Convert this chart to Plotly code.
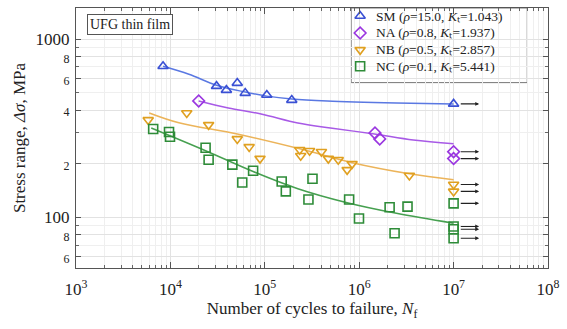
import numpy as np
import plotly.graph_objects as go

# Fatigue data: cycles to failure and stress range (MPa)
sm_N = [8360, 30800, 39200, 51100, 62000, 105000, 193000, 1.0e7]
sm_S = [706, 546, 519, 568, 499, 487, 456, 434]
na_N = [19950, 1.47e6, 1.65e6, 1.0e7, 1.0e7]
na_S = [451, 298, 276, 234, 214]
nb_N = [5820, 14900, 25400, 51100, 68300, 89000, 234000, 240000, 298000,
        398000, 471000, 600000, 841000, 745000, 3.4e6, 1.0e7, 1.0e7]
nb_S = [353, 386, 331, 276, 249, 214, 240, 222, 237, 234, 214, 211, 200,
        185, 172, 153, 140]
nc_N = [6570, 9670, 9900, 23600, 25400, 45300, 75200, 57700, 151000, 167000,
        320000, 290000, 782000, 995000, 2.1e6, 3.25e6, 2.37e6,
        1.0e7, 1.0e7, 1.0e7, 1.0e7]
nc_S = [314, 302, 284, 246, 211, 198, 183, 157, 159, 140, 165, 126, 126,
        98.7, 114, 115, 81.5, 120, 89, 85.8, 76.4]

# Fitted S-N curves (sampled)
sm_fit_N = [8360, 15700, 30800, 62000, 105000, 193000, 458000, 2.48e6, 1.0e7]
sm_fit_S = [706, 637, 553, 506, 480, 462, 450, 439, 434]
na_fit_N = [19950, 41100, 91300, 224000, 496000, 1.45e6, 3.74e6, 1.0e7]
na_fit_S = [451, 412, 381, 339, 318, 294, 272, 259]
nb_fit_N = [5970, 12300, 51100, 240000, 841000, 3.4e6, 1.0e7]
nb_fit_S = [386, 340, 294, 242, 203, 176, 163]
nc_fit_N = [6270, 23600, 75200, 224000, 745000, 2.48e6, 1.0e7]
nc_fit_S = [318, 237, 181, 145, 121, 105.5, 92.8]

RUNOUT = 1.0e7
x_tick_vals = [1e3, 1e4, 1e5, 1e6, 1e7, 1e8]
x_tick_text = ["10<sup>3</sup>", "10<sup>4</sup>", "10<sup>5</sup>",
               "10<sup>6</sup>", "10<sup>7</sup>", "10<sup>8</sup>"]
y_tick_vals = [60, 80, 100, 200, 400, 600, 800, 1000]
y_tick_text = ["6", "8", "100", "2", "4", "6", "8", "1000"]

FONT = "Liberation Serif, Times New Roman, serif"

series = [
    ("SM (<i>ρ</i>=15.0, <i>K</i>ₜ=1.043)", sm_N, sm_S, sm_fit_N, sm_fit_S,
     "triangle-up-open", "#3a50d4", "#5a78e2"),
    ("NA (<i>ρ</i>=0.8, <i>K</i>ₜ=1.937)", na_N, na_S, na_fit_N, na_fit_S,
     "diamond-open", "#9a36e0", "#a85ae6"),
    ("NB (<i>ρ</i>=0.5, <i>K</i>ₜ=2.857)", nb_N, nb_S, nb_fit_N, nb_fit_S,
     "triangle-down-open", "#e0a020", "#ecb45a"),
    ("NC (<i>ρ</i>=0.1, <i>K</i>ₜ=5.441)", nc_N, nc_S, nc_fit_N, nc_fit_S,
     "square-open", "#2e8c38", "#46a050"),
]

fig = go.Figure()
for name, n, s, fn, fs, sym, mcol, lcol in series:
    fig.add_trace(go.Scatter(x=fn, y=fs, mode="lines", line=dict(color=lcol, width=1.5, shape="spline"),
                             showlegend=False, hoverinfo="skip"))
for name, n, s, fn, fs, sym, mcol, lcol in series:
    fig.add_trace(go.Scatter(x=n, y=s, mode="markers", name=name, showlegend=False,
                             marker=dict(symbol=sym, size=9, color=mcol, line=dict(color=mcol, width=1.6))))

annotations = []
shapes = []

# Run-out arrows
for name, n, s, fn, fs, sym, mcol, lcol in series:
    for xi, yi in zip(n, s):
        if xi >= RUNOUT:
            annotations.append(dict(x=np.log10(xi) + 0.27, y=np.log10(yi), ax=np.log10(xi) + 0.06,
                                    ay=np.log10(yi), xref="x", yref="y", axref="x", ayref="y",
                                    showarrow=True, arrowhead=2, arrowsize=0.7, arrowwidth=1.1,
                                    arrowcolor="#222", text=""))

annotations.append(dict(text="UFG thin film", xref="paper", yref="paper", x=0.023, y=0.977,
                        xanchor="left", yanchor="top", showarrow=False,
                        font=dict(family=FONT, size=14, color="#222"),
                        bordercolor="#555", borderwidth=1, borderpad=2, bgcolor="white"))

# Compact legend box (keys on an overlay axis spanning the plot area)
LEG_X0, LEG_X1, LEG_Y0, LEG_Y1 = 0.583, 0.956, 0.713, 1.0
KEY_X, TEXT_X = 0.602, 0.631
ROW_Y = [0.969, 0.904, 0.839, 0.776]
shapes.append(dict(type="rect", xref="paper", yref="paper", x0=LEG_X0, x1=LEG_X1, y0=LEG_Y0, y1=LEG_Y1,
                   line=dict(color="#777", width=1), fillcolor="white", layer="between"))
for (name, n, s, fn, fs, sym, mcol, lcol), ry in zip(series, ROW_Y):
    fig.add_trace(go.Scatter(x=[KEY_X], y=[ry], xaxis="x2", yaxis="y2", mode="markers",
                             showlegend=False, hoverinfo="skip",
                             marker=dict(symbol=sym, size=9, color=mcol, line=dict(color=mcol, width=1.6))))
    annotations.append(dict(text=name, xref="paper", yref="paper", x=TEXT_X, y=ry, xanchor="left",
                            yanchor="middle", showarrow=False,
                            font=dict(family=FONT, size=13.5, color="#222")))

y_minor = [v * 10 ** k for k in (1, 2, 3) for v in range(1, 10) if 52 <= v * 10 ** k <= 1500]
x_minor = [v * 10 ** k for k in range(3, 8) for v in range(2, 10)]

fig.update_layout(
    width=567, height=329,
    margin=dict(l=76, r=14, t=7, b=61),
    paper_bgcolor="white", plot_bgcolor="white",
    font=dict(family=FONT, size=17, color="#222"),
    annotations=annotations,
    shapes=shapes,
    showlegend=False,
    xaxis=dict(type="log", range=[3, 8], tickmode="array", tickvals=x_tick_vals, ticktext=x_tick_text,
               ticks="inside", ticklen=6, tickcolor="#555", showline=True, linecolor="#555",
               linewidth=1, mirror="allticks", showgrid=True, gridcolor="#e2e2e2", zeroline=False,
               tickfont=dict(size=17), ticklabelstandoff=6,
               minor=dict(tickmode="array", tickvals=x_minor, ticks="inside", ticklen=3,
                          tickcolor="#666", showgrid=True, gridcolor="#efefef"),
               title=dict(text="Number of cycles to failure, <i>N</i><sub>f</sub>",
                          font=dict(size=17), standoff=3)),
    yaxis=dict(type="log", range=[np.log10(52), np.log10(1500)], tickmode="array",
               tickvals=y_tick_vals,
               ticktext=[t if t in ("100", "1000") else f"<span style='font-size:12px'>{t}</span>"
                         for t in y_tick_text],
               ticks="inside", ticklen=5, tickcolor="#555", showline=True, linecolor="#555",
               linewidth=1, mirror="allticks", showgrid=True, gridcolor="#e2e2e2", zeroline=False,
               tickfont=dict(size=17), ticklabelstandoff=2,
               minor=dict(tickmode="array", tickvals=y_minor, ticks="inside", ticklen=3,
                          tickcolor="#666", showgrid=True, gridcolor="#efefef"),
               title=dict(text="Stress range, <i>Δσ</i>, MPa", font=dict(size=17), standoff=5)),
    xaxis2=dict(overlaying="x", range=[0, 1], visible=False, fixedrange=True),
    yaxis2=dict(overlaying="y", range=[0, 1], visible=False, fixedrange=True),
)

fig.write_html("out.html")
